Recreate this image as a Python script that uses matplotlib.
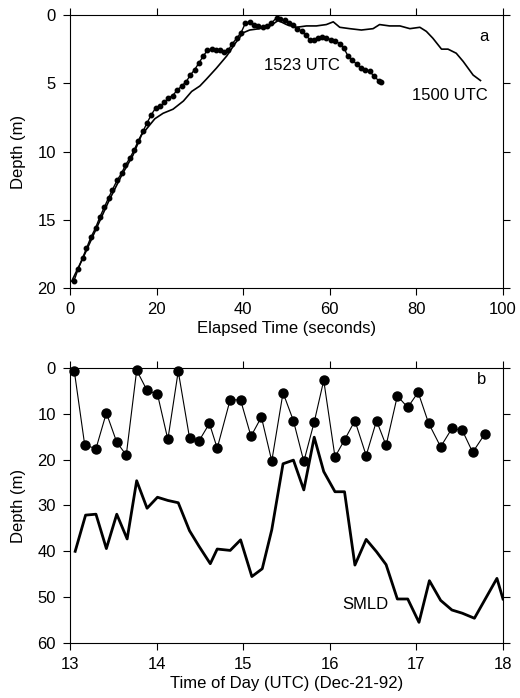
import matplotlib
matplotlib.use("Agg")
import matplotlib.pyplot as plt

plt.rcParams["font.family"] = ["Liberation Sans", "DejaVu Sans"]

# panel a: 1523 UTC profile (dotted), elapsed seconds vs depth
t_1523 = [0.9, 1.9, 2.9, 3.8, 4.8, 5.9, 6.9, 7.9, 8.9, 9.8, 10.9, 11.9, 12.8, 13.8,
          14.8, 15.8, 16.9, 17.8, 18.8, 19.8, 20.8, 21.8, 22.7, 23.7, 24.8, 25.8,
          26.8, 27.8, 28.8, 29.8, 30.8, 31.7, 32.7, 33.7, 34.6, 35.6, 36.5, 37.5,
          38.5, 39.5, 40.5, 41.5, 42.5, 43.5, 44.5, 45.5, 46.5, 47.7, 48.6, 49.6,
          50.6, 51.5, 52.5, 53.5, 54.5, 55.4, 56.3, 57.3, 58.3, 59.2, 60.2, 61.2,
          62.3, 63.2, 64.2, 65.2, 66.2, 67.2, 68.2, 69.2, 70.2, 71.3, 71.8]
d_1523 = [19.5, 18.6, 17.8, 17.1, 16.3, 15.6, 14.8, 14.1, 13.4, 12.8, 12.1, 11.6,
          11.0, 10.5, 9.9, 9.2, 8.5, 7.9, 7.3, 6.8, 6.7, 6.4, 6.1, 5.9, 5.5, 5.2,
          4.9, 4.4, 4.0, 3.5, 3.0, 2.6, 2.5, 2.6, 2.6, 2.7, 2.6, 2.1, 1.7, 1.3,
          0.6, 0.5, 0.7, 0.8, 0.9, 0.8, 0.6, 0.2, 0.3, 0.4, 0.6, 0.7, 1.0, 1.2,
          1.5, 1.8, 1.8, 1.7, 1.6, 1.7, 1.8, 1.9, 2.1, 2.4, 3.0, 3.3, 3.6, 3.9,
          4.0, 4.1, 4.5, 4.8, 4.9]

# panel a: 1500 UTC profile (solid)
t_1500 = [0.4, 3.0, 6.0, 9.0, 12.0, 14.5, 16.5, 19.6, 21.5, 23.8, 26.2, 28.1, 30.0,
          31.5, 33.8, 36.2, 38.1, 40.0, 41.5, 43.8, 46.2, 48.1, 50.0, 52.3, 54.6,
          56.9, 59.2, 60.8, 62.3, 64.6, 67.3, 70.0, 71.5, 73.8, 76.2, 78.5, 80.8,
          82.3, 83.8, 85.8, 87.3, 89.2, 90.8, 93.1, 94.8]
d_1500 = [19.5, 17.8, 15.7, 13.6, 11.7, 10.3, 8.8, 7.6, 7.2, 6.9, 6.3, 5.6, 5.2,
          4.7, 3.9, 3.0, 2.1, 1.3, 1.1, 1.0, 0.8, 0.4, 0.7, 0.9, 0.8, 0.8, 0.7,
          0.5, 0.9, 1.0, 1.1, 1.0, 0.7, 0.8, 0.8, 1.0, 0.9, 1.2, 1.7, 2.5, 2.5,
          2.8, 3.4, 4.4, 4.8]

# panel b: dots (time of day, depth)
t_dots = [13.05, 13.17, 13.30, 13.42, 13.54, 13.65, 13.77, 13.89, 14.01, 14.13,
          14.25, 14.38, 14.49, 14.61, 14.70, 14.85, 14.97, 15.09, 15.21, 15.33,
          15.46, 15.58, 15.70, 15.82, 15.93, 16.06, 16.17, 16.29, 16.42, 16.54,
          16.65, 16.78, 16.90, 17.02, 17.14, 17.28, 17.41, 17.53, 17.65, 17.79]
d_dots = [0.7, 16.8, 17.6, 9.8, 16.2, 19.0, 0.5, 4.9, 5.7, 15.6,
          0.7, 15.2, 15.9, 12.1, 17.5, 6.9, 7.0, 14.9, 10.7, 20.3,
          5.4, 11.5, 20.4, 11.8, 2.7, 19.4, 15.7, 11.5, 19.1, 11.5,
          16.9, 6.1, 8.6, 5.3, 12.0, 17.2, 13.2, 13.6, 18.4, 14.4]

# panel b: SMLD
t_smld = [13.06, 13.18, 13.30, 13.42, 13.54, 13.66, 13.77, 13.89, 14.01, 14.13,
          14.25, 14.38, 14.49, 14.62, 14.70, 14.85, 14.97, 15.10, 15.22, 15.33,
          15.46, 15.58, 15.70, 15.82, 15.93, 16.06, 16.17, 16.29, 16.42, 16.54,
          16.65, 16.78, 16.90, 17.03, 17.15, 17.28, 17.41, 17.53, 17.67, 17.93, 18.0]
d_smld = [40.0, 32.1, 31.9, 39.4, 31.9, 37.3, 24.6, 30.6, 28.2, 28.9,
          29.4, 35.5, 38.9, 42.7, 39.5, 39.8, 37.5, 45.5, 43.8, 35.3,
          20.9, 20.1, 26.6, 15.1, 22.6, 27.0, 27.0, 43.0, 37.4, 40.1,
          42.9, 50.4, 50.4, 55.5, 46.4, 50.7, 52.8, 53.5, 54.6, 45.9, 50.4]

FS = 12

fig = plt.figure(figsize=(5.2, 6.98), dpi=100)
ax_a = fig.add_axes([0.1346, 0.5874, 0.8327, 0.3911])
ax_b = fig.add_axes([0.1346, 0.0788, 0.8327, 0.394])

for ax in (ax_a, ax_b):
    ax.tick_params(direction="out", length=5, width=0.8, labelsize=FS, pad=5,
                   top=True, right=True, labeltop=False, labelright=False)
    for s in ax.spines.values():
        s.set_linewidth(0.8)

# panel a
ax_a.plot(t_1500, d_1500, color="black", lw=1.2)
ax_a.plot(t_1523, d_1523, color="black", lw=1.0, marker="o", ms=3.2)
ax_a.set_xlim(0, 100)
ax_a.set_ylim(20, 0)
ax_a.set_xticks([0, 20, 40, 60, 80, 100])
ax_a.set_yticks([0, 5, 10, 15, 20])
ax_a.set_xlabel("Elapsed Time (seconds)", fontsize=FS, labelpad=3)
ax_a.set_ylabel("Depth (m)", fontsize=FS, labelpad=8)
ax_a.text(53.5, 3.7, "1523 UTC", fontsize=FS, ha="center", va="center")
ax_a.text(87.8, 5.9, "1500 UTC", fontsize=FS, ha="center", va="center")
ax_a.text(95.5, 1.6, "a", fontsize=FS, ha="center", va="center")

# panel b
ax_b.plot(t_dots, d_dots, color="black", lw=0.8, marker="o", ms=6.5, clip_on=False)
ax_b.plot(t_smld, d_smld, color="black", lw=2.0)
ax_b.set_xlim(13, 18)
ax_b.set_ylim(60, 0)
ax_b.set_xticks([13, 14, 15, 16, 17, 18])
ax_b.set_yticks([0, 10, 20, 30, 40, 50, 60])
ax_b.set_xlabel("Time of Day (UTC) (Dec-21-92)", fontsize=FS, labelpad=3)
ax_b.set_ylabel("Depth (m)", fontsize=FS, labelpad=8)
ax_b.text(16.41, 51.7, "SMLD", fontsize=FS, ha="center", va="center")
ax_b.text(17.75, 2.6, "b", fontsize=FS, ha="center", va="center")

fig.savefig("out.png", dpi=100)
